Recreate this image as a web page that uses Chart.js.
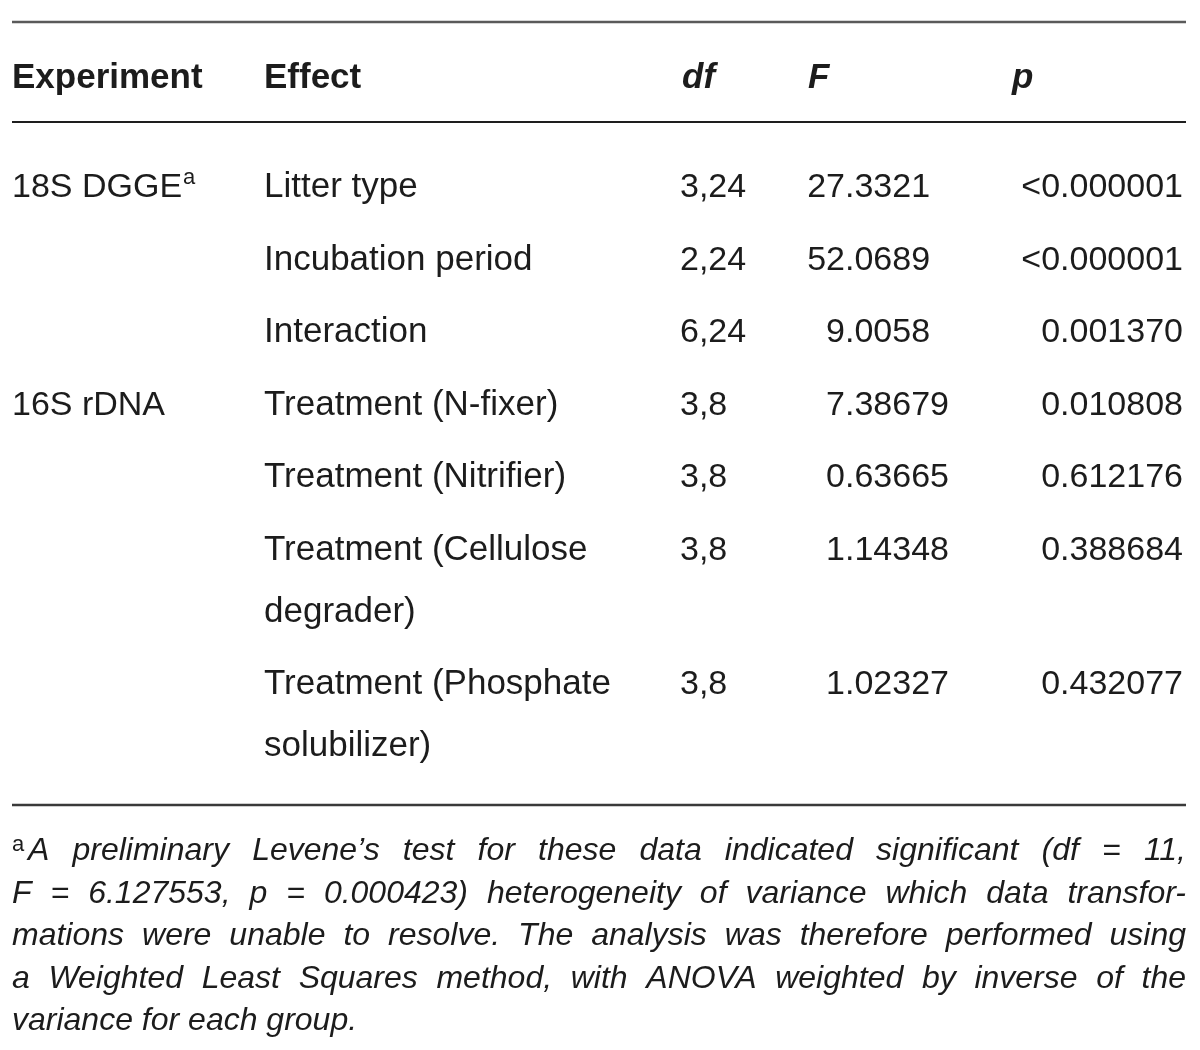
<!DOCTYPE html>
<html>
<head>
<meta charset="utf-8">
<script src="https://cdn.jsdelivr.net/npm/chart.js@4.4.1/dist/chart.umd.min.js"></script>
<style>
  html, body { margin: 0; padding: 0; background: #fff; }
  #wrap { width: 1200px; height: 1050px; }
</style>
</head>
<body>
<div id="wrap"><canvas id="table-chart" width="1200" height="1050"></canvas></div>
<script>
// table content
const headers = ["Experiment", "Effect", "df", "F", "p"];
const experiments = ["18S DGGE", "", "", "16S rDNA", "", "", ""];
const experimentNotes = ["a", "", "", "", "", "", ""];
const effects = ["Litter type", "Incubation period", "Interaction", "Treatment (N-fixer)",
  "Treatment (Nitrifier)", "Treatment (Cellulose degrader)", "Treatment (Phosphate solubilizer)"];
const dfValues = ["3,24", "2,24", "6,24", "3,8", "3,8", "3,8", "3,8"];
const fValues = ["27.3321", "52.0689", "9.0058", "7.38679", "0.63665", "1.14348", "1.02327"];
const pValues = ["<0.000001", "<0.000001", "0.001370", "0.010808", "0.612176", "0.388684", "0.432077"];
const footnoteMark = "a";
const footnoteLines = [
  "A preliminary Levene\u2019s test for these data indicated significant (df = 11,",
  "F = 6.127553, p = 0.000423) heterogeneity of variance which data transfor-",
  "mations were unable to resolve. The analysis was therefore performed using",
  "a Weighted Least Squares method, with ANOVA weighted by inverse of the",
  "variance for each group."
];

// layout
const FAMILY = '"Liberation Sans", Arial, sans-serif';
const bodyFont = "34px " + FAMILY;
const effectFont = "35px " + FAMILY;
const headFont = "bold 35px " + FAMILY;
const headItalic = "italic bold 35px " + FAMILY;
const noteFont = "italic 32px " + FAMILY;
const supFont = "22px " + FAMILY;
const textColor = "#1c1c1c";

const tableLeft = 12, tableRight = 1186;
const headerX = [12, 264, 682, 808, 1012];
const colX = [12, 264, 680, 845, 1183];
const effectWrap = 400;
const headerBase = 88, firstRowBase = 197, rowStep = 72.5, wrapStep = 62;
const noteBase = 860, noteStep = 42.5;

// measure to wrap the effect names
const mctx = document.createElement("canvas").getContext("2d");
mctx.font = effectFont;
function wrap(text, maxW) {
  const words = text.split(" ");
  const lines = [];
  let cur = "";
  words.forEach(w => {
    const test = cur ? cur + " " + w : w;
    if (cur && mctx.measureText(test).width > maxW) { lines.push(cur); cur = w; }
    else cur = test;
  });
  lines.push(cur);
  return lines;
}

const effectLines = effects.map(e => wrap(e, effectWrap));
const rowBase = [];
let yb = firstRowBase;
effectLines.forEach(lines => {
  rowBase.push(yb);
  yb += rowStep + (lines.length - 1) * wrapStep;
});
const lastLine = rowBase[rowBase.length - 1] + (effectLines[effectLines.length - 1].length - 1) * wrapStep;

// build datasets
function textSet(points, texts, font, align, extra) {
  return Object.assign({
    type: "scatter", data: points, pointRadius: 0, cellText: texts, cellFont: font, cellAlign: align
  }, extra || {});
}
function rule(y, color, width) {
  return {
    type: "line", data: [{ x: tableLeft, y: y }, { x: tableRight, y: y }],
    borderColor: color, borderWidth: width, pointRadius: 0, fill: false
  };
}

const datasets = [];
datasets.push(rule(22, "#5a5a5a", 2.5));
datasets.push(rule(122, "#1e1e1e", 2));
datasets.push(rule(lastLine + 49, "#3a3a3a", 2.5));

// header
headers.forEach((h, i) => {
  datasets.push(textSet([{ x: headerX[i], y: headerBase }], [h], i < 2 ? headFont : headItalic, "left"));
});

// experiment column
datasets.push(textSet(rowBase.map(y => ({ x: colX[0], y: y })), experiments, bodyFont, "left",
  { cellNote: experimentNotes }));

// effect column (wrapped lines)
const effPts = [], effTxt = [];
effectLines.forEach((lines, r) => {
  lines.forEach((l, k) => { effPts.push({ x: colX[1], y: rowBase[r] + k * wrapStep }); effTxt.push(l); });
});
datasets.push(textSet(effPts, effTxt, effectFont, "left"));

datasets.push(textSet(rowBase.map(y => ({ x: colX[2], y: y })), dfValues, bodyFont, "left"));
datasets.push(textSet(rowBase.map(y => ({ x: colX[3], y: y })), fValues, bodyFont, "decimal"));
datasets.push(textSet(rowBase.map(y => ({ x: colX[4], y: y })), pValues, bodyFont, "right"));

// footnote
datasets.push(textSet([{ x: tableLeft, y: noteBase - 9 }], [footnoteMark], supFont, "left"));
datasets.push(textSet(footnoteLines.map((l, i) => ({ x: i === 0 ? 28 : tableLeft, y: noteBase + i * noteStep })),
  footnoteLines, noteFont, "justify", { justifyTo: tableRight }));

const tableText = {
  id: "tableText",
  afterDatasetsDraw(chart) {
    const ctx = chart.ctx;
    ctx.save();
    ctx.fillStyle = textColor;
    ctx.textBaseline = "alphabetic";
    chart.data.datasets.forEach((ds, i) => {
      if (!ds.cellText) return;
      const meta = chart.getDatasetMeta(i);
      const right = ds.justifyTo !== undefined ? chart.scales.x.getPixelForValue(ds.justifyTo) : 0;
      meta.data.forEach((pt, j) => {
        const t = ds.cellText[j];
        if (!t) return;
        ctx.font = ds.cellFont;
        let x = pt.x;
        if (ds.cellAlign === "right") {
          x -= ctx.measureText(t).width;
        } else if (ds.cellAlign === "decimal") {
          const dot = t.indexOf(".");
          x -= ctx.measureText(dot < 0 ? t : t.slice(0, dot)).width;
        }
        if (ds.cellAlign === "justify" && j < ds.cellText.length - 1) {
          const words = t.split(" ");
          const total = words.reduce((s, w) => s + ctx.measureText(w).width, 0);
          const gap = (right - pt.x - total) / (words.length - 1);
          let cx = pt.x;
          words.forEach(w => { ctx.fillText(w, cx, pt.y); cx += ctx.measureText(w).width + gap; });
        } else {
          ctx.fillText(t, x, pt.y);
        }
        if (ds.cellNote && ds.cellNote[j]) {
          const w = ctx.measureText(t).width;
          ctx.font = supFont;
          ctx.fillText(ds.cellNote[j], x + w + 1, pt.y - 13);
        }
      });
    });
    ctx.restore();
  }
};

new Chart(document.getElementById("table-chart").getContext("2d"), {
  type: "scatter",
  data: { datasets: datasets },
  options: {
    responsive: false,
    animation: false,
    events: [],
    layout: { padding: 0 },
    plugins: { legend: { display: false }, tooltip: { enabled: false } },
    scales: {
      x: { type: "linear", display: false, min: 0, max: 1200 },
      y: { type: "linear", display: false, min: 0, max: 1050, reverse: true }
    }
  },
  plugins: [tableText]
});
</script>
</body>
</html>
